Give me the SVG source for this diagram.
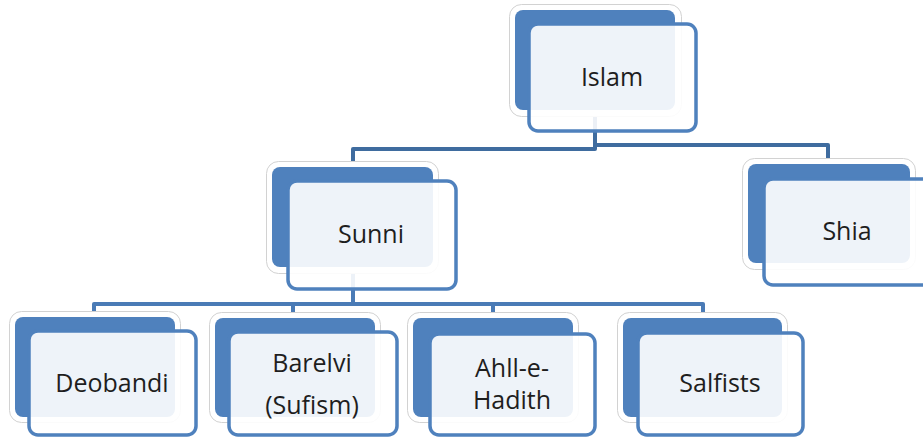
<svg xmlns="http://www.w3.org/2000/svg" width="923" height="437" viewBox="0 0 923 437">
<defs>
<style>
.halo{fill:#ffffff;stroke:#d2d2d2;stroke-width:1}
.back{fill:#4F81BD}
.front{fill:#ffffff;fill-opacity:0.9;stroke:#4F81BD;stroke-width:3.5}
.lbl{font-family:"Open Sans","Liberation Sans",sans-serif;font-size:25px;fill:#1e1e1e;text-anchor:middle}
.c1{fill:none;stroke:#3F6C9F;stroke-width:4;stroke-linejoin:round}
.c2{fill:none;stroke:#4A7BB6;stroke-width:4;stroke-linejoin:round}
</style>
</defs>
<rect width="923" height="437" fill="#ffffff"/>
<g id="connectors">
<path class="c1" d="M595,110 V149 H353 V167"/>
<path class="c1" d="M595,145 H828 V164"/>
<path class="c2" d="M353,267 V304 H94 V318"/>
<path class="c2" d="M293,304 V318 M493,304 V318 M353,304 H703 V318"/>
</g>
<g id="islam">
<rect class="halo" x="509.5" y="4.5" width="172" height="112" rx="12"/>
<rect class="back" x="515" y="10" width="160" height="100" rx="8"/>
<rect class="front" x="529" y="24" width="167" height="107" rx="9"/>
<text class="lbl" x="612" y="86">Islam</text>
</g>
<g id="sunni">
<rect class="halo" x="266.5" y="161.5" width="172" height="112" rx="12"/>
<rect class="back" x="272" y="167" width="161" height="100" rx="8"/>
<rect class="front" x="288" y="181" width="168" height="108" rx="9"/>
<text class="lbl" x="371" y="243">Sunni</text>
</g>
<g id="shia">
<rect class="halo" x="742.5" y="158.5" width="173" height="111" rx="12"/>
<rect class="back" x="748" y="164" width="162" height="99" rx="8"/>
<rect class="front" x="764" y="179" width="168" height="106" rx="9"/>
<text class="lbl" x="847" y="240">Shia</text>
</g>
<g id="deobandi">
<rect class="halo" x="9.5" y="311.5" width="171" height="111" rx="12"/>
<rect class="back" x="15" y="317" width="160" height="100" rx="8"/>
<rect class="front" x="29" y="331" width="167" height="104" rx="9"/>
<text class="lbl" x="112" y="392">Deobandi</text>
</g>
<g id="barelvi">
<rect class="halo" x="209.5" y="312.5" width="171" height="110" rx="12"/>
<rect class="back" x="215" y="318" width="160" height="99" rx="8"/>
<rect class="front" x="229" y="332" width="168" height="103" rx="9"/>
<text class="lbl" x="312" y="372">Barelvi</text>
<text class="lbl" x="312" y="414">(Sufism)</text>
</g>
<g id="ahll-e-hadith">
<rect class="halo" x="407.5" y="312.5" width="171" height="110" rx="12"/>
<rect class="back" x="413" y="318" width="160" height="99" rx="8"/>
<rect class="front" x="430" y="334" width="165" height="101" rx="9"/>
<text class="lbl" x="512" y="377">Ahll-e-</text>
<text class="lbl" x="512" y="409">Hadith</text>
</g>
<g id="salfists">
<rect class="halo" x="617.5" y="312.5" width="170" height="110" rx="12"/>
<rect class="back" x="623" y="318" width="159" height="99" rx="8"/>
<rect class="front" x="638" y="333" width="165" height="102" rx="9"/>
<text class="lbl" x="720" y="392">Salfists</text>
</g>
</svg>
